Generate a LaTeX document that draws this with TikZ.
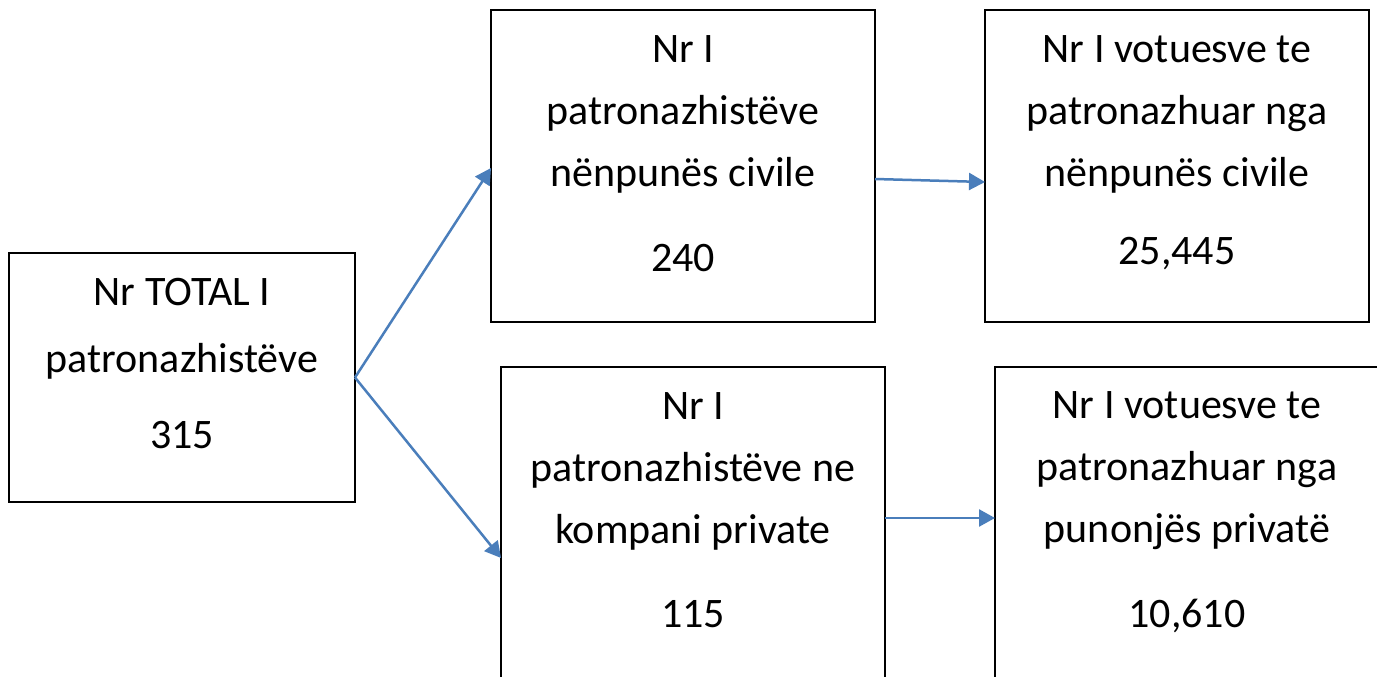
\documentclass[tikz,border=0pt]{standalone}
\usepackage{fontspec}
\setmainfont{Carlito}
\usetikzlibrary{arrows.meta}
\definecolor{arrowblue}{RGB}{74,126,187}
\begin{document}
\begin{tikzpicture}[x=1pt,y=-1pt,
  box/.style={draw=black, line width=1.9pt, minimum width=384pt, minimum height=312pt, inner sep=0pt, outer sep=0pt},
  txt/.style={anchor=base, inner sep=0pt, font=\fontsize{42}{62}\selectfont},
  conn/.style={draw=arrowblue, line width=2.5pt, -{Triangle[length=16pt,width=17pt]}}]
\clip (0,0) rectangle (1377,677);
\fill[white] (0,0) rectangle (1377,677);
% boxes
\node[box, minimum width=346pt, minimum height=249pt] (A) at (182,377.5) {};
\node[box] (B) at (683,166) {};
\node[box] (C) at (1177,166) {};
\node[box, minimum height=382pt] (D) at (693,558) {};
\node[box, minimum height=326pt] (E) at (1187,530) {};
% texts
\node[txt] (tA) at (182,305) {\begin{tabular}[t]{@{}c@{}}Nr TOTAL I\\[5pt] patronazhistëve\\[14pt] 315\end{tabular}};
\node[txt] (tB) at (683,63) {\begin{tabular}[t]{@{}c@{}}Nr I\\ patronazhistëve\\ nënpunës civile\\[23pt] 240\end{tabular}};
\node[txt] (tC) at (1177,63) {\begin{tabular}[t]{@{}c@{}}Nr I votuesve te\\ patronazhuar nga\\ nënpunës civile\\[16pt] 25,445\end{tabular}};
\node[txt] (tD) at (693,419) {\begin{tabular}[t]{@{}c@{}}Nr I\\ patronazhistëve ne\\ kompani private\\[22pt] 115\end{tabular}};
\node[txt] (tE) at (1187,418) {\begin{tabular}[t]{@{}c@{}}Nr I votuesve te\\ patronazhuar nga\\ punonjës privatë\\[23pt] 10,610\end{tabular}};
% connectors
\draw[conn] (A.east) -- ([yshift=-2pt]B.west);
\draw[conn] (A.east) -- (D.west);
\draw[conn] ([yshift=-13pt]B.east) -- ([yshift=-16pt]C.west);
\draw[conn] ([yshift=40pt]D.east) -- ([yshift=12pt]E.west);
\end{tikzpicture}
\end{document}
